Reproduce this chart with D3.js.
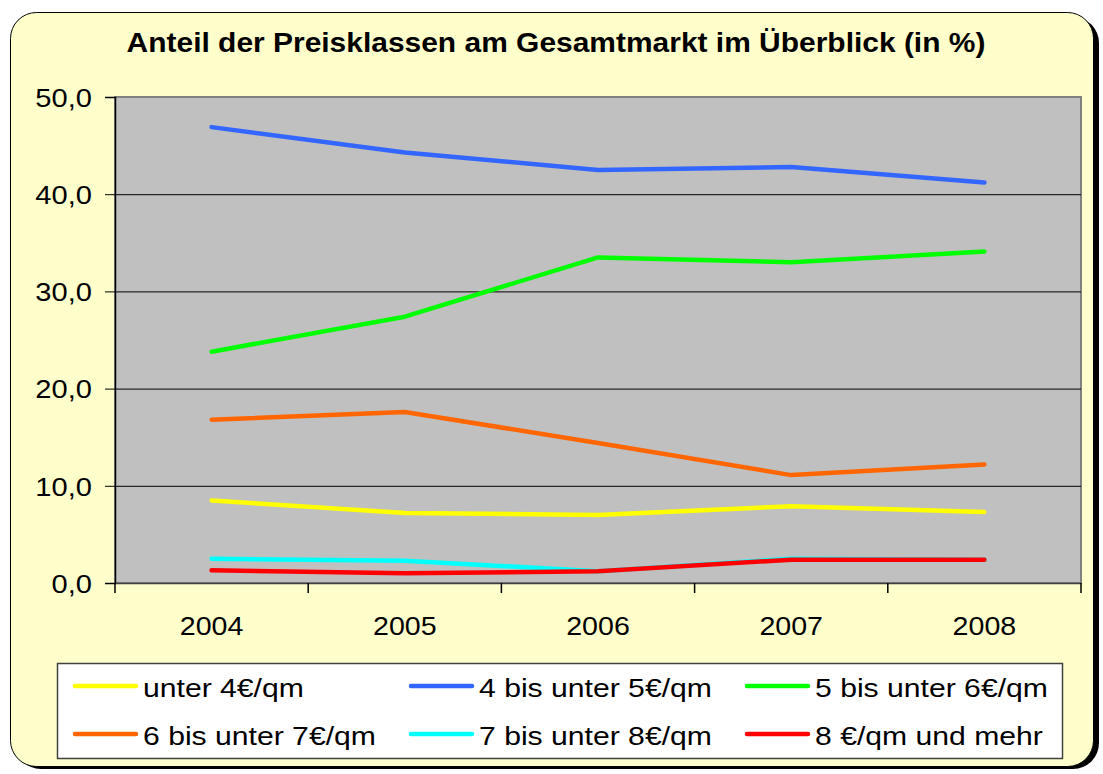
<!DOCTYPE html>
<html>
<head>
<meta charset="utf-8">
<script src="https://cdn.jsdelivr.net/npm/d3@7"></script>
<style>
  body { margin: 0; background: #fff; }
  text { font-family: "Liberation Sans", Arial, sans-serif; fill: #000; }
</style>
</head>
<body>
<div id="chart"></div>
<script>
// data
var years = ["2004", "2005", "2006", "2007", "2008"];
var seriesNames = ["unter 4€/qm", "4 bis unter 5€/qm", "5 bis unter 6€/qm",
                   "6 bis unter 7€/qm", "7 bis unter 8€/qm", "8 €/qm und mehr"];
var seriesColors = ["#FFFF00", "#3366FF", "#00FF00", "#FF6600", "#00FFFF", "#FF0000"];
var unter4 = [8.5, 7.2, 7.0, 7.9, 7.3];
var von4bis5 = [46.9, 44.3, 42.5, 42.8, 41.2];
var von5bis6 = [23.8, 27.4, 33.5, 33.0, 34.1];
var von6bis7 = [16.8, 17.6, 14.4, 11.1, 12.2];
var von7bis8 = [2.5, 2.3, 1.2, 2.5, 2.4];
var ab8 = [1.3, 1.0, 1.2, 2.4, 2.4];
var yTicks = [0, 10, 20, 30, 40, 50];

var allSeries = [unter4, von4bis5, von5bis6, von6bis7, von7bis8, ab8];

var svgWidth = 1103;
var svgHeight = 774;
var margin = { top: 97, right: 22, bottom: 191, left: 115 };
var width = svgWidth - margin.left - margin.right;
var height = svgHeight - margin.top - margin.bottom;

// text in the original is a bit wider than Arial, stretch it horizontally
function stretch(sel, sx) {
  sel.each(function() {
    var t = d3.select(this);
    var x = +t.attr("x") || 0;
    var y = +t.attr("y") || 0;
    t.attr("transform", `translate(${x},${y}) scale(${sx},1)`)
      .attr("x", 0).attr("y", 0);
  });
}

var svg = d3.select("#chart")
  .append("svg")
  .attr("width", svgWidth)
  .attr("height", svgHeight);

// outer frame with shadow
svg.append("rect")
  .attr("x", 15).attr("y", 17)
  .attr("width", 1084).attr("height", 752)
  .attr("rx", 26).attr("fill", "#000");
svg.append("rect")
  .attr("x", 10.5).attr("y", 12.5)
  .attr("width", 1083).attr("height", 754)
  .attr("rx", 26)
  .attr("fill", "#FFFFCC")
  .attr("stroke", "#000")
  .attr("stroke-width", 1);

// title
svg.append("text")
  .attr("x", 556)
  .attr("y", 52)
  .attr("text-anchor", "middle")
  .style("font-weight", "bold")
  .style("font-size", "28px")
  .text("Anteil der Preisklassen am Gesamtmarkt im Überblick (in %)")
  .call(stretch, 1.07);

var chartGroup = svg.append("g")
  .attr("transform", `translate(${margin.left}, ${margin.top})`);

var xScale = d3.scaleBand()
  .domain(years)
  .range([0, width]);

var yScale = d3.scaleLinear()
  .domain([0, 50])
  .range([height, 0]);

// plot area
chartGroup.append("rect")
  .attr("width", width)
  .attr("height", height)
  .attr("fill", "#C0C0C0")
  .attr("stroke", "#808080")
  .attr("stroke-width", 2);

// gridlines
chartGroup.selectAll(".grid")
  .data(yTicks.slice(1, -1))
  .enter()
  .append("line")
  .attr("x1", 0).attr("x2", width)
  .attr("y1", d => yScale(d) + 0.5).attr("y2", d => yScale(d) + 0.5)
  .attr("stroke", "#000")
  .attr("stroke-width", 1);

// y axis
var leftAxis = d3.axisLeft(yScale)
  .tickValues(yTicks)
  .tickSize(10)
  .tickPadding(13)
  .tickFormat(d => d3.format(".1f")(d).replace(".", ","));

var yAxis = chartGroup.append("g").call(leftAxis);
yAxis.selectAll("text").style("font-size", "26px").attr("dy", "0.36em")
  .call(stretch, 1.12);
yAxis.select(".domain").attr("stroke", "#000").attr("stroke-width", 1.5);

// x axis: ticks on band edges
var bottomAxis = d3.axisBottom(xScale).tickSize(0).tickPadding(34);
var xAxis = chartGroup.append("g")
  .attr("transform", `translate(0, ${height})`)
  .call(bottomAxis);
xAxis.selectAll("text").style("font-size", "26px").call(stretch, 1.1);
xAxis.select(".domain").attr("stroke", "#404040").attr("stroke-width", 1.5);

var edges = years.map(d => xScale(d)).concat([width]);
xAxis.selectAll(".edge")
  .data(edges)
  .enter()
  .append("line")
  .attr("x1", d => d).attr("x2", d => d)
  .attr("y1", 0).attr("y2", 10)
  .attr("stroke", "#000")
  .attr("stroke-width", 1.5);

// lines
var line = d3.line()
  .x((d, i) => xScale(years[i]) + xScale.bandwidth() / 2)
  .y(d => yScale(d));

chartGroup.selectAll(".series")
  .data(allSeries)
  .enter()
  .append("path")
  .attr("d", d => line(d))
  .attr("fill", "none")
  .attr("stroke", (d, i) => seriesColors[i])
  .attr("stroke-width", 4.5)
  .attr("stroke-linecap", "round")
  .attr("stroke-linejoin", "round");

// legend
var legend = svg.append("g");
legend.append("rect")
  .attr("x", 57.5).attr("y", 663.5)
  .attr("width", 1005).attr("height", 95)
  .attr("fill", "#fff")
  .attr("stroke", "#404040")
  .attr("stroke-width", 1.5);

var colX = [75, 411, 747];
var rowY = [686, 734];

var items = legend.selectAll(".item")
  .data(seriesNames)
  .enter()
  .append("g")
  .attr("transform", (d, i) => `translate(${colX[i % 3]}, ${rowY[Math.floor(i / 3)]})`);

items.append("line")
  .attr("x1", 0).attr("x2", 61)
  .attr("y1", 0).attr("y2", 0)
  .attr("stroke", (d, i) => seriesColors[i])
  .attr("stroke-width", 4.5)
  .attr("stroke-linecap", "round");

items.append("text")
  .attr("x", 68)
  .attr("y", 11)
  .style("font-size", "26px")
  .text(d => d)
  .call(stretch, 1.16);
</script>
</body>
</html>
